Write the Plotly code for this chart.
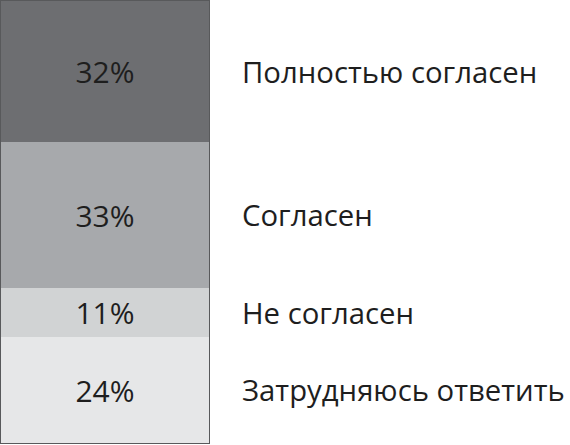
import plotly.graph_objects as go

categories = ["Затрудняюсь ответить", "Не согласен", "Согласен", "Полностью согласен"]
values = [24, 11, 33, 32]
value_labels = ["24%", "11%", "33%", "32%"]
colors = ["#e6e7e8", "#d1d3d4", "#a7a9ac", "#6d6e71"]

FONT = "Open Sans"

fig = go.Figure()
for cat, v, lab, c in zip(categories, values, value_labels, colors):
    fig.add_trace(go.Bar(
        x=[""], y=[v], name=cat, text=[lab], textposition="inside",
        insidetextanchor="middle", constraintext="none",
        textfont=dict(family=FONT, size=30, color="#1e1e1e"),
        marker=dict(color=c, line=dict(width=0)),
        hoverinfo="skip",
    ))

total = sum(values)
cum = 0
for cat, v in zip(categories, values):
    mid = cum + v / 2
    cum += v
    fig.add_annotation(
        x=1, xref="paper", xshift=31, y=mid, yref="y",
        text=cat, showarrow=False, xanchor="left", yanchor="middle",
        font=dict(family=FONT, size=29.3, color="#1e1e1e"),
    )

fig.update_layout(
    barmode="stack", bargap=0, showlegend=False,
    width=570, height=445,
    margin=dict(l=1, r=361, t=1, b=2),
    paper_bgcolor="white", plot_bgcolor="white",
    uniformtext=dict(mode="show", minsize=10),
)
fig.update_xaxes(showticklabels=False, showgrid=False, zeroline=False,
                 showline=True, mirror=True, linecolor="#58595b", linewidth=1)
fig.update_yaxes(range=[0, total], showticklabels=False, showgrid=False, zeroline=False,
                 showline=True, mirror=True, linecolor="#58595b", linewidth=1)

fig.write_html("out.html", config={"displayModeBar": False},
               post_script="document.body.style.margin='0';document.body.style.overflow='hidden';")
